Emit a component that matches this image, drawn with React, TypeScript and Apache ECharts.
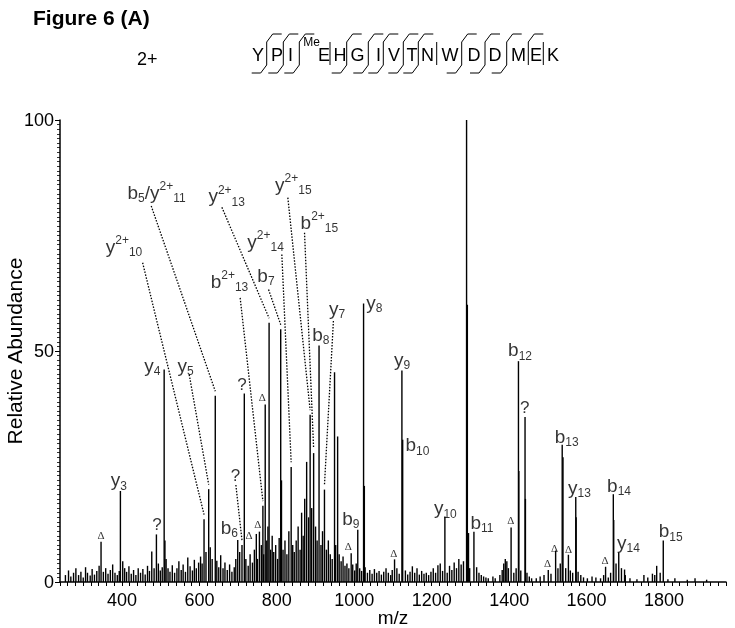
import React, { useEffect, useRef } from "react";
import * as echarts from "echarts";

const FONT = "'Liberation Sans', Arial, Helvetica, sans-serif";
const SERIF = "'Liberation Serif', 'DejaVu Serif', serif";

// Peaks that carry an annotation: [m/z, relative abundance]
const labeledPeaks: [number, number][] = [
  [346, 8.7], [396, 19.7], [489, 10.3], [509, 46], [612, 13.6], [624, 20.1],
  [641, 40.3], [699, 9.1], [710, 8], [716, 40.8], [747, 10.4], [755, 10.9],
  [764, 16.5], [770, 38.4], [780, 56.1], [810, 54.7], [837, 24.9], [886, 36.2],
  [895, 27.9], [909, 51.2], [923, 20], [949, 45.4], [992, 6.2], [1009, 11.3],
  [1024, 60.3], [1104, 4.9], [1123, 45.8], [1125, 30.8], [1234, 14.2], [1290, 100],
  [1309, 10.9], [1405, 11.8], [1424, 47.8], [1441, 35.7], [1501, 2.6], [1520, 6.8],
  [1537, 29.7], [1553, 5.9], [1572, 18.4], [1649, 3.3], [1669, 19], [1683, 6.4],
  [1798, 9],
];

// Isotope / unlabeled peaks
const otherPeaks: [number, number][] = [
  [477, 6.6], [511, 9], [570, 5.3], [598, 4.2], [812, 22], [877, 26], [957, 31.5],
  [1026, 20.8], [1292, 60], [1295, 10.6], [1425, 24], [1442, 18], [1539, 27],
  [1573, 14], [1670, 13.4], [1698, 2.7], [1781, 3.5],
];

// Baseline noise peaks
const noisePeaks: [number, number][] = [
  [254, 1.5], [262, 2.5], [268, 1.2], [275, 2], [281, 3], [288, 1.5], [294, 2.2], [300, 1],
  [306, 3.2], [311, 2], [318, 1.4], [323, 2.8], [329, 1.6], [335, 2.4], [341, 3.5], [352, 2.2],
  [358, 3], [364, 1.8], [370, 2.6], [376, 3.8], [382, 2], [388, 1.5], [393, 2.4], [402, 4.5],
  [407, 3], [412, 2.2], [418, 3.4], [424, 1.8], [430, 2.6], [436, 1.5], [442, 3], [448, 2],
  [454, 2.8], [460, 1.6], [466, 3.5], [471, 2.4], [483, 3], [494, 4], [499, 2.5], [504, 3.2],
  [514, 5], [519, 3], [524, 2.2], [530, 3.6], [536, 2], [542, 3], [547, 4.5], [553, 2.6],
  [558, 3.8], [564, 2.2], [576, 3.4], [582, 2.5], [587, 4.8], [592, 3], [603, 5.5], [607, 4],
  [617, 6.5], [628, 7.5], [633, 5], [645, 4.6], [650, 3.2], [655, 5.8], [661, 3], [666, 4.2],
  [672, 2.6], [678, 3.8], [684, 2.2], [690, 3.2], [694, 5], [704, 6.5], [720, 5], [726, 3.5],
  [731, 6], [737, 4.2], [742, 7], [750, 5], [760, 8], [766, 6], [774, 9], [777, 12], [784, 7],
  [788, 10], [792, 6.5], [797, 8], [802, 5], [806, 9.5], [816, 7], [821, 9], [826, 6], [831, 11],
  [841, 8], [845, 6.5], [850, 9], [855, 12], [860, 7], [864, 15], [868, 10], [872, 18], [882, 14],
  [890, 16], [900, 12], [904, 9], [914, 8], [918, 11], [928, 7], [933, 9], [938, 6], [943, 5],
  [952, 8], [961, 6], [966, 4.5], [971, 5.5], [976, 3.5], [981, 4], [986, 3], [996, 3.8],
  [1001, 2.5], [1005, 4], [1014, 3], [1019, 2.4], [1028, 3.2], [1034, 2], [1040, 2.6], [1046, 1.8],
  [1052, 2.8], [1058, 2], [1064, 2.4], [1070, 1.6], [1076, 2.2], [1082, 3], [1088, 2], [1094, 1.5],
  [1098, 2.6], [1110, 3], [1116, 1.8], [1132, 2.5], [1138, 1.6], [1144, 2.2], [1150, 3.4],
  [1156, 2], [1162, 3], [1168, 1.6], [1174, 2.4], [1180, 1.8], [1186, 2], [1192, 1.5], [1198, 2.2],
  [1204, 3], [1210, 2], [1216, 3.6], [1222, 4], [1228, 2.4], [1240, 2], [1246, 3.5], [1252, 2.6],
  [1258, 4.2], [1264, 3], [1270, 5], [1276, 3.8], [1282, 4.5], [1298, 3], [1316, 3.2], [1322, 2],
  [1328, 1.5], [1334, 1.2], [1340, 1], [1346, 0.8], [1358, 1.2], [1364, 0.8], [1376, 1.5],
  [1382, 2.6], [1386, 4], [1390, 5], [1394, 4.5], [1398, 3], [1412, 2], [1418, 3], [1430, 2.5],
  [1446, 2], [1452, 1.2], [1458, 0.8], [1470, 0.8], [1480, 1.2], [1490, 1.5], [1508, 1.8],
  [1526, 3], [1532, 4], [1546, 3], [1558, 2.5], [1564, 2], [1578, 2.2], [1585, 1.5], [1592, 1],
  [1602, 0.8], [1614, 1.2], [1624, 1], [1636, 0.8], [1644, 1.5], [1656, 1], [1662, 2], [1676, 4],
  [1690, 3], [1700, 1.5], [1712, 0.8], [1730, 0.6], [1748, 1.5], [1758, 1], [1770, 1.8],
  [1776, 1.5], [1790, 2], [1810, 0.6], [1828, 0.8], [1860, 0.5], [1880, 0.8], [1910, 0.5],
];

// Ion labels: text (rich), left edge m/z, centre abundance
const ionLabels: { t: string; mz: number; ab: number }[] = [
  { t: "y{sub|3}", mz: 369.8, ab: 22.1 },
  { t: "y{sub|4}", mz: 456, ab: 46.9 },
  { t: "y{sub|5}", mz: 542, ab: 46.9 },
  { t: "y{sup|2+}{sub|10}", mz: 356.9, ab: 72.7 },
  { t: "b{sub|5}/y{sup|2+}{sub|11}", mz: 412.9, ab: 84.4 },
  { t: "y{sup|2+}{sub|13}", mz: 621.9, ab: 83.6 },
  { t: "b{sup|2+}{sub|13}", mz: 627.9, ab: 65.1 },
  { t: "b{sub|6}", mz: 653.7, ab: 11.9 },
  { t: "b{sub|7}", mz: 748.4, ab: 66.4 },
  { t: "y{sup|2+}{sub|14}", mz: 722.6, ab: 73.8 },
  { t: "y{sup|2+}{sub|15}", mz: 794.1, ab: 86.1 },
  { t: "b{sup|2+}{sub|15}", mz: 860.1, ab: 77.9 },
  { t: "b{sub|8}", mz: 890.3, ab: 53.6 },
  { t: "y{sub|7}", mz: 933.4, ab: 59.2 },
  { t: "b{sub|9}", mz: 967.7, ab: 13.8 },
  { t: "y{sub|8}", mz: 1029.7, ab: 60.6 },
  { t: "y{sub|9}", mz: 1101, ab: 48.2 },
  { t: "b{sub|10}", mz: 1131, ab: 29.7 },
  { t: "y{sub|10}", mz: 1204.4, ab: 16.1 },
  { t: "y{sub|11}", mz: 1298.8, ab: 100.2 },
  { t: "b{sub|11}", mz: 1298.8, ab: 12.9 },
  { t: "b{sub|12}", mz: 1396, ab: 50.3 },
  { t: "b{sub|13}", mz: 1516.6, ab: 31.5 },
  { t: "y{sub|13}", mz: 1550.9, ab: 20.5 },
  { t: "b{sub|14}", mz: 1651.6, ab: 20.9 },
  { t: "y{sub|14}", mz: 1677.4, ab: 8.6 },
  { t: "b{sub|15}", mz: 1785, ab: 11.1 },
];

// Unassigned ("?") and neutral-loss (Δ) marks: centre m/z, centre abundance
const questionMarks: [number, number][] = [
  [709.7, 42.7], [1440, 37.7], [490.3, 12.4], [692.9, 23],
];
const deltaMarks: [number, number][] = [
  [762.6, 40.1], [345.8, 10.2], [728, 10.2], [751, 12.6], [984.5, 7.7], [1101.9, 6.3],
  [1403.9, 13.4], [1499.3, 4.1], [1517.4, 7.4], [1553.5, 7.2], [1647.7, 4.8],
];

// Dotted leaders: start point [m/z, abundance] -> peak m/z
const leaders: { from: [number, number]; peak: number }[] = [
  { from: [453.4, 69.1], peak: 612 },
  { from: [573.7, 44.9], peak: 624 },
  { from: [475.6, 81.4], peak: 641 },
  { from: [658.1, 81.1], peak: 780 },
  { from: [705.3, 61.5], peak: 764 },
  { from: [778.6, 63.3], peak: 810 },
  { from: [812.9, 70.9], peak: 837 },
  { from: [828.4, 83.2], peak: 886 },
  { from: [871.5, 75.6], peak: 895 },
  { from: [946.1, 56.5], peak: 923 },
  { from: [694.2, 21], peak: 710 },
];

const xTickLabels = [400, 600, 800, 1000, 1200, 1400, 1600, 1800];
const yTickLabels = [0, 50, 100];

// Peptide header
const residues = ["Y", "P", "I", "E", "H", "G", "I", "V", "T", "N", "W", "D", "D", "M", "E", "K"];
const bSites = [1, 2, 3, 5, 6, 7, 8, 9, 11, 12, 13, 14];
const ySites = [1, 2, 3, 5, 6, 7, 8, 9, 11, 12, 13];

// header layout (pixels)
const residueX = [258, 277, 290.5, 324, 340, 357.5, 378.5, 394, 412, 427.5, 450, 474, 495, 518.5, 536, 553];
const cleavageX = [266.7, 283.3, 299.3, 330, 346.7, 368.3, 383.3, 403.3, 418.3, 436.7, 461.7, 485, 506.7, 528.3, 543.3];

function buildHeader(): any[] {
  const g: any[] = [];
  g.push({
    type: "text", x: 33, y: 17,
    style: { text: "Figure 6 (A)", fontFamily: FONT, fontWeight: "bold", fontSize: 21, fill: "#000", verticalAlign: "middle", textVerticalAlign: "middle" },
  });
  g.push({
    type: "text", x: 137, y: 59,
    style: { text: "2+", fontFamily: FONT, fontSize: 18, fill: "#000", verticalAlign: "middle", textVerticalAlign: "middle" },
  });
  residues.forEach((r, i) => {
    g.push({
      type: "text", x: residueX[i], y: 55,
      style: { text: r, fontFamily: FONT, fontSize: 18, fill: "#000", align: "center", textAlign: "center", verticalAlign: "middle", textVerticalAlign: "middle" },
    });
  });
  g.push({
    type: "text", x: 311.5, y: 42,
    style: { text: "Me", fontFamily: FONT, fontSize: 12, fill: "#000", align: "center", textAlign: "center", verticalAlign: "middle", textVerticalAlign: "middle" },
  });
  const top = 42, bot = 65;
  cleavageX.forEach((x, i) => {
    const site = i + 1;
    g.push({ type: "line", shape: { x1: x, y1: top, x2: x, y2: bot }, style: { stroke: "#000", lineWidth: 1 } });
    if (bSites.includes(site)) {
      g.push({ type: "polyline", shape: { points: [[x, top], [x + 6, top - 8], [x + 15, top - 8]] }, style: { stroke: "#000", lineWidth: 1, fill: "none" } });
    }
    if (ySites.includes(site)) {
      g.push({ type: "polyline", shape: { points: [[x, bot], [x - 6, bot + 8], [x - 15, bot + 8]] }, style: { stroke: "#000", lineWidth: 1, fill: "none" } });
    }
  });
  return g;
}

export default function App() {
  const ref = useRef<HTMLDivElement>(null);
  useEffect(() => {
    document.body.style.margin = "0";
    if (!ref.current) return;
    const chart = echarts.init(ref.current, undefined, { renderer: "svg" });
    const allPeaks = [...noisePeaks, ...otherPeaks, ...labeledPeaks];
    const peakAb = (mz: number) => {
      const p = labeledPeaks.find((q) => q[0] === mz);
      return p ? p[1] : 0;
    };
    const leaderData = leaders.map((l) => [l.from[0], l.from[1], l.peak, peakAb(l.peak) + 1]);
    const rich = {
      sub: { fontFamily: FONT, fontSize: 12, lineHeight: 12, verticalAlign: "bottom", color: "#000" },
      sup: { fontFamily: FONT, fontSize: 12, lineHeight: 10, verticalAlign: "top", color: "#000" },
    };
    chart.setOption({
      animation: false,
      grid: { left: 60, right: 9, top: 120, bottom: 46, containLabel: false, outerBoundsMode: "none" },
      xAxis: {
        type: "value", min: 240, max: 1960, interval: 20,
        name: "m/z", nameLocation: "middle", nameGap: 26, nameMoveOverlap: false,
        nameTextStyle: { fontFamily: FONT, fontSize: 19, color: "#000" },
        axisLine: { show: true, lineStyle: { color: "#000", width: 1.5 } },
        axisTick: { show: true, length: 4, lineStyle: { color: "#000", width: 1 } },
        axisLabel: {
          fontFamily: FONT, fontSize: 18, color: "#000", margin: 9,
          formatter: (v: number) => (xTickLabels.includes(Math.round(v)) ? String(Math.round(v)) : ""),
        },
        splitLine: { show: false },
      },
      yAxis: {
        type: "value", min: 0, max: 100, interval: 50,
        name: "Relative Abundance", nameLocation: "middle", nameGap: 35, nameRotate: 90, nameMoveOverlap: false,
        nameTextStyle: { fontFamily: FONT, fontSize: 21, color: "#000" },
        axisLine: { show: true, lineStyle: { color: "#000", width: 1.5 } },
        axisTick: { show: true, length: 5, lineStyle: { color: "#000", width: 1 } },
        minorTick: { show: true, splitNumber: 50, length: 3, lineStyle: { color: "#000", width: 0.8 } },
        axisLabel: {
          fontFamily: FONT, fontSize: 18, color: "#000", margin: 6,
          formatter: (v: number) => (yTickLabels.includes(v) ? String(v) : ""),
        },
        splitLine: { show: false },
      },
      series: [
        {
          type: "custom",
          encode: { x: 0, y: 1 },
          data: allPeaks,
          clip: true,
          renderItem: (params: any, api: any) => {
            const mz = api.value(0);
            const ab = api.value(1);
            const p0 = api.coord([mz, 0]);
            const p1 = api.coord([mz, ab]);
            return {
              type: "line",
              shape: { x1: p0[0], y1: p0[1], x2: p1[0], y2: p1[1] },
              style: { stroke: "#000", lineWidth: 1.4 },
            };
          },
          silent: true,
        },
        {
          type: "custom",
          encode: { x: [0, 2], y: [1, 3] },
          data: leaderData,
          renderItem: (params: any, api: any) => {
            const a = api.coord([api.value(0), api.value(1)]);
            const b = api.coord([api.value(2), api.value(3)]);
            return {
              type: "line",
              shape: { x1: a[0], y1: a[1], x2: b[0], y2: b[1] },
              style: { stroke: "#000", lineWidth: 1.3, lineDash: [1.5, 1.5] },
            };
          },
          silent: true,
        },
        {
          type: "scatter",
          symbolSize: 1,
          itemStyle: { color: "rgba(0,0,0,0)" },
          data: ionLabels.map((l) => ({ value: [l.mz, l.ab], txt: l.t })),
          label: {
            show: true, position: "right", distance: 0, align: "left", verticalAlign: "middle",
            fontFamily: FONT, fontSize: 19, lineHeight: 24, color: "#000",
            formatter: (p: any) => p.data.txt,
            rich,
          },
          silent: true,
        },
        {
          type: "scatter",
          symbolSize: 1,
          itemStyle: { color: "rgba(0,0,0,0)" },
          data: questionMarks,
          label: {
            show: true, position: "inside", align: "center", verticalAlign: "middle",
            fontFamily: FONT, fontSize: 17, color: "#000", formatter: "?",
          },
          silent: true,
        },
        {
          type: "scatter",
          symbolSize: 1,
          itemStyle: { color: "rgba(0,0,0,0)" },
          data: deltaMarks,
          label: {
            show: true, position: "inside", align: "center", verticalAlign: "middle",
            fontFamily: SERIF, fontSize: 11, color: "#000", formatter: "Δ",
          },
          silent: true,
        },
      ],
      graphic: buildHeader(),
    });
    return () => chart.dispose();
  }, []);
  return <div ref={ref} style={{ width: 735, height: 628, filter: "grayscale(1)" }} />;
}
